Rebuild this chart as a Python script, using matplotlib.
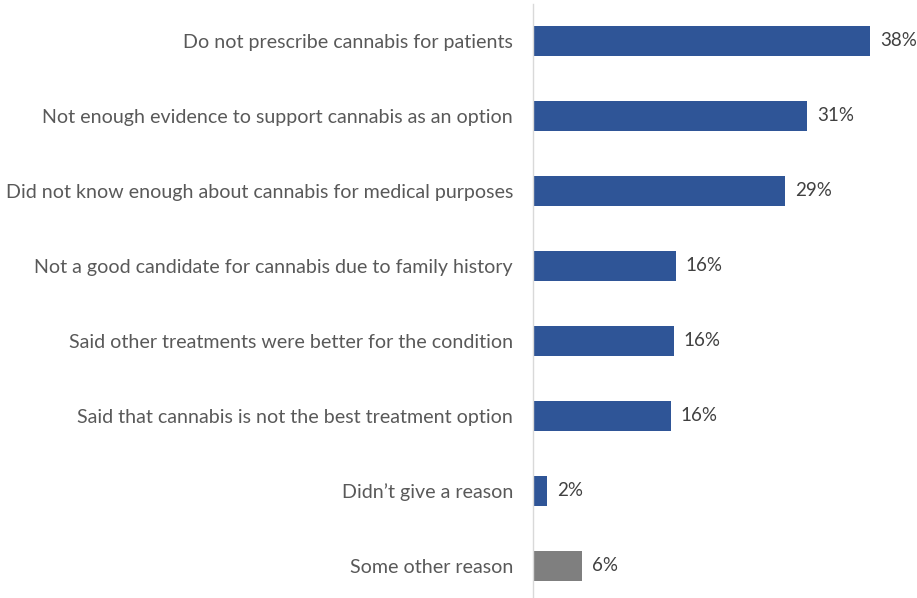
import matplotlib
matplotlib.use("Agg")
import matplotlib.pyplot as plt

categories = [
    "Do not prescribe cannabis for patients",
    "Not enough evidence to support cannabis as an option",
    "Did not know enough about cannabis for medical purposes",
    "Not a good candidate for cannabis due to family history",
    "Said other treatments were better for the condition",
    "Said that cannabis is not the best treatment option",
    "Didn\u2019t give a reason",
    "Some other reason",
]
values = [38.4, 31.2, 28.7, 16.3, 16.1, 15.7, 1.7, 5.6]
labels = ["38%", "31%", "29%", "16%", "16%", "16%", "2%", "6%"]
colors = ["#2F5597"] * 7 + ["#7F7F7F"]

plt.rcParams['font.family'] = ['Lato', 'DejaVu Sans']

W, H = 917, 598
fig = plt.figure(figsize=(W / 100, H / 100), dpi=100)
left = 532.5 / W
top_px = 3.5
bottom_px = 598
ax = fig.add_axes([left, 1 - bottom_px / H, 378.4 / W, (bottom_px - top_px) / H])

y = list(range(len(categories)))
bars = ax.barh(y, values, height=0.41, color=colors, edgecolor="none")
ax.set_xlim(0, 43)
ax.set_ylim(7.427, -0.5)

ax.set_yticks(y)
ax.set_yticklabels(categories, fontsize=14.1, color="#595959")
ax.tick_params(axis="y", length=0, pad=14)
ax.set_xticks([])

for s in ["top", "right", "bottom"]:
    ax.spines[s].set_visible(False)
ax.spines["left"].set_color("#D9D9D9")
ax.spines["left"].set_linewidth(1.0)

for b, lab in zip(bars, labels):
    ax.annotate(lab, (b.get_width(), b.get_y() + b.get_height() / 2),
                xytext=(7, 0), textcoords="offset points",
                va="center", ha="left", fontsize=13.5, color="#404040")

fig.savefig("out.png", dpi=100)
